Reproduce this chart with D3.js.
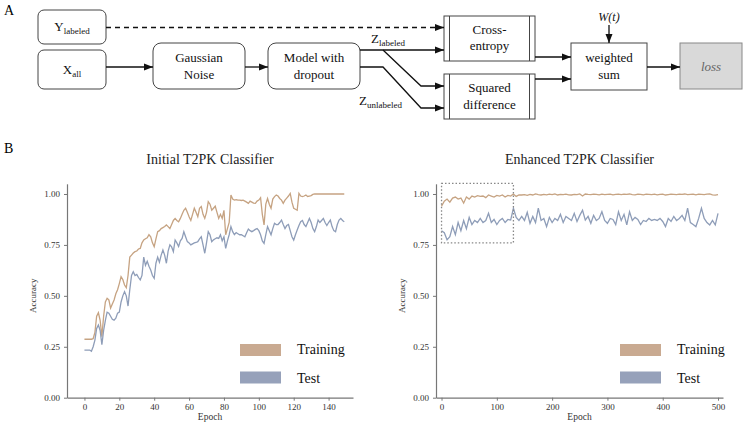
<!DOCTYPE html>
<html><head><meta charset="utf-8">
<script src="https://cdn.jsdelivr.net/npm/d3@7"></script>
<style>body{margin:0;background:#fff}svg{display:block}text{font-family:"Liberation Serif","Times New Roman",serif}</style>
</head><body><svg id="c" width="744" height="426"></svg>
<script>
// ---------- DATA ----------
const initialTraining = [0.287,0.287,0.287,0.287,0.287,0.29,0.32,0.40,0.417,0.38,
0.30,0.40,0.47,0.488,0.48,0.44,0.46,0.48,0.51,0.53,
0.56,0.594,0.58,0.553,0.54,0.60,0.69,0.70,0.71,0.717,
0.72,0.73,0.733,0.76,0.774,0.78,0.785,0.80,0.79,0.76,
0.741,0.78,0.815,0.82,0.83,0.835,0.84,0.848,0.84,0.83,
0.85,0.87,0.88,0.87,0.864,0.88,0.90,0.92,0.93,0.91,
0.888,0.87,0.90,0.93,0.91,0.888,0.93,0.938,0.90,0.88,
0.91,0.962,0.95,0.92,0.93,0.94,0.91,0.88,0.90,0.88,
0.92,0.80,0.83,0.86,0.995,0.975,0.97,0.972,0.97,0.97,
0.968,0.97,0.965,0.96,0.954,0.965,0.96,0.955,0.954,0.965,
0.97,0.982,0.90,0.848,0.95,0.978,0.95,0.93,0.975,0.987,
0.995,0.99,0.978,0.97,0.954,0.97,0.98,0.99,1.003,0.96,
0.93,0.925,0.92,1.003,0.99,0.987,0.99,0.995,0.988,0.99,
0.992,0.998,1,1,1,1,1,1,1,1,
1,1,1,1,1,1,1,1,1,1];
const initialTest = [0.234,0.234,0.234,0.234,0.228,0.25,0.283,0.34,0.357,0.33,
0.26,0.33,0.38,0.42,0.415,0.40,0.385,0.38,0.39,0.415,
0.42,0.47,0.50,0.52,0.50,0.45,0.53,0.60,0.618,0.60,
0.605,0.59,0.578,0.60,0.69,0.65,0.67,0.645,0.627,0.60,
0.586,0.66,0.69,0.665,0.70,0.725,0.70,0.66,0.72,0.75,
0.74,0.717,0.774,0.76,0.742,0.77,0.782,0.815,0.79,0.766,
0.76,0.75,0.755,0.76,0.762,0.766,0.78,0.79,0.75,0.709,
0.76,0.815,0.80,0.766,0.775,0.78,0.785,0.782,0.80,0.77,
0.79,0.733,0.77,0.80,0.84,0.815,0.80,0.81,0.805,0.80,
0.80,0.795,0.79,0.81,0.828,0.82,0.815,0.82,0.826,0.83,
0.82,0.80,0.77,0.758,0.80,0.84,0.82,0.80,0.83,0.856,
0.85,0.85,0.86,0.872,0.85,0.83,0.845,0.85,0.82,0.79,
0.774,0.80,0.823,0.845,0.864,0.87,0.85,0.84,0.86,0.88,
0.86,0.83,0.815,0.84,0.872,0.86,0.87,0.88,0.86,0.845,
0.86,0.872,0.84,0.82,0.815,0.85,0.872,0.88,0.87,0.864];
const enhancedEpochStep = 5;
const enhancedTraining = [0.94,0.965,0.975,0.96,0.98,0.985,0.975,0.98,0.955,0.985,
0.975,0.99,0.985,0.992,0.988,0.99,0.982,0.995,0.99,0.985,
0.993,0.99,0.995,0.985,0.993,0.99,1.0,0.988,0.995,0.995,
0.997,0.993,0.998,0.995,1.0,0.997,0.995,0.998,0.996,0.999,
0.997,1.0,0.995,0.998,0.997,0.999,0.996,0.995,0.998,0.997,
1.0,0.99,1.0,0.998,0.997,0.999,0.998,0.996,0.999,0.997,
0.998,0.999,0.996,0.998,0.999,0.997,0.999,0.998,1.0,0.997,
0.996,0.999,0.998,0.996,0.999,0.998,0.997,0.999,0.996,0.998,
0.999,0.995,0.997,0.999,0.998,0.997,0.999,0.998,1.0,0.997,
0.998,0.999,0.996,0.999,0.998,0.997,0.999,1.0,0.996,0.994,0.997];
const enhancedTest = [0.82,0.81,0.775,0.79,0.84,0.80,0.86,0.82,0.87,0.83,
0.885,0.85,0.87,0.86,0.88,0.86,0.87,0.905,0.86,0.875,
0.85,0.87,0.88,0.86,0.875,0.872,0.93,0.885,0.87,0.89,
0.87,0.91,0.856,0.89,0.86,0.93,0.87,0.88,0.84,0.885,
0.86,0.88,0.87,0.90,0.86,0.89,0.88,0.87,0.905,0.865,
0.895,0.92,0.872,0.89,0.856,0.895,0.87,0.88,0.913,0.87,
0.856,0.88,0.875,0.85,0.913,0.87,0.90,0.848,0.913,0.87,
0.885,0.875,0.85,0.87,0.865,0.88,0.87,0.875,0.87,0.88,
0.865,0.84,0.88,0.865,0.89,0.87,0.88,0.895,0.87,0.93,
0.86,0.85,0.84,0.88,0.93,0.88,0.86,0.848,0.87,0.848,0.905];
const yTicks = [0,0.25,0.5,0.75,1.0];
const initialXTicks = [0,20,40,60,80,100,120,140];
const enhancedXTicks = [0,100,200,300,400,500];
const seriesNames = ["Training","Test"];
const zoomBox = {x0:0, x1:130, y0:0.76, y1:1.052};

// ---------- STYLE ----------
const colTrain = "#c6a382", colTest = "#8e9db8";
const swTrain = "#c9aa91", swTest = "#96a1ba";
const svg = d3.select("#c");
const defs = svg.append("defs");
defs.append("marker").attr("id","ah").attr("markerUnits","userSpaceOnUse")
  .attr("markerWidth",10).attr("markerHeight",8).attr("refX",9).attr("refY",4)
  .attr("orient","auto").append("path").attr("d","M0,0.5 L9,4 L0,7.5 Z").attr("fill","#111");

// ---------- PANEL A: diagram ----------
svg.append("text").attr("x",4).attr("y",15).attr("font-size",14).text("A");
const g = svg.append("g");
const stroke = "#444";
function rbox(x,y,w,h,r){ g.append("rect").attr("x",x).attr("y",y).attr("width",w).attr("height",h).attr("rx",r).attr("ry",r).attr("fill","#fff").attr("stroke",stroke).attr("stroke-width",1); }
function txt(x,y,s,size,opts={}){ const t=g.append("text").attr("x",x).attr("y",y).attr("font-size",size).attr("text-anchor",opts.anchor||"middle").attr("fill",opts.fill||"#111").text(s); if(opts.italic) t.attr("font-style","italic"); return t;}
function subtxt(x,y,main,sub,anchor){ const t=g.append("text").attr("x",x).attr("y",y).attr("text-anchor",anchor||"middle").attr("fill","#111");
  t.append("tspan").attr("font-size",13).text(main); t.append("tspan").attr("font-size",9).attr("dy",3).text(sub); }
function arrow(pts,dashed){ const p=g.append("path").attr("d",d3.line()(pts)).attr("fill","none").attr("stroke","#111").attr("stroke-width",1.3).attr("marker-end","url(#ah)"); if(dashed) p.attr("stroke-dasharray","5,4"); }

rbox(38,10,68,34,6); subtxt(72,31,"Y","labeled");
rbox(38,50,68,39,6); subtxt(72,74,"X","all");
rbox(153,43,92,46,8); txt(199,62,"Gaussian",13); txt(199,79,"Noise",13);
rbox(268,43,92,46,8); txt(314,62,"Model with",13); txt(314,79,"dropout",13);
function dbox(x,y,w,h){ g.append("rect").attr("x",x).attr("y",y).attr("width",w).attr("height",h).attr("fill","#fff").attr("stroke",stroke);
  g.append("line").attr("x1",x+5.5).attr("x2",x+5.5).attr("y1",y).attr("y2",y+h).attr("stroke",stroke);
  g.append("line").attr("x1",x+w-5.5).attr("x2",x+w-5.5).attr("y1",y).attr("y2",y+h).attr("stroke",stroke); }
dbox(444,16,91,45); txt(489.5,34,"Cross-",13); txt(489.5,50,"entropy",13);
dbox(444,74,91,45); txt(489.5,92,"Squared",13); txt(489.5,109,"difference",13);
g.append("rect").attr("x",571).attr("y",43).attr("width",76).attr("height",47).attr("fill","#fff").attr("stroke",stroke);
txt(609,62,"weighted",13); txt(609,79,"sum",13);
g.append("rect").attr("x",680).attr("y",43).attr("width",62).attr("height",46).attr("fill","#d9d9d9").attr("stroke","#888");
txt(711,71,"loss",13,{italic:true,fill:"#666"});
txt(609,21,"W(t)",12,{italic:true});

arrow([[106,27.5],[444,27.5]],true);
arrow([[106,67],[153,67]]);
arrow([[245,67],[268,67]]);
arrow([[360,50],[444,50]]);
arrow([[383,50],[421,86],[444,86]]);
arrow([[360,67],[383,67],[421,108],[444,108]]);
arrow([[535,57],[571,57]]);
arrow([[535,79],[571,79]]);
arrow([[647,67],[680,67]]);
arrow([[609,25],[609,43]]);
subtxt(371,43,"Z","labeled","start");
subtxt(359,105,"Z","unlabeled","start");

// ---------- PANEL B: charts ----------
svg.append("text").attr("x",4).attr("y",153).attr("font-size",14).text("B");

function panel(cfg){
  const x = d3.scaleLinear().domain(cfg.xDomain).range(cfg.xRange);
  const y = d3.scaleLinear().domain([0,1.05]).range([397.7,183.8]);
  const pg = svg.append("g");
  const fmt = d3.format(".2f");
  const ya = pg.append("g").attr("transform",`translate(${cfg.xRange[0]},0)`)
    .call(d3.axisLeft(y).tickValues(yTicks).tickFormat(fmt).tickSize(3).tickSizeOuter(0).tickPadding(4));
  const xa = pg.append("g").attr("transform",`translate(0,${y(0)})`)
    .call(d3.axisBottom(x).tickValues(cfg.xTicks).tickSize(3).tickSizeOuter(0).tickPadding(3));
  [ya,xa].forEach(a=>{ a.select(".domain").attr("stroke","#777").attr("stroke-width",1.2);
    a.selectAll(".tick line").attr("stroke","#777");
    a.selectAll("text").attr("font-family","Liberation Serif, serif").attr("font-size",9).attr("fill","#333"); });
  pg.append("text").attr("x",(cfg.xRange[0]+cfg.xRange[1])/2).attr("y",164).attr("text-anchor","middle").attr("font-size",14).attr("fill","#222").text(cfg.title);
  pg.append("text").attr("transform",`translate(${cfg.xRange[0]-31},${y(0.5)}) rotate(-90)`).attr("text-anchor","middle").attr("font-size",9).attr("fill","#333").text("Accuracy");
  pg.append("text").attr("x",(cfg.xRange[0]+cfg.xRange[1])/2).attr("y",420).attr("text-anchor","middle").attr("font-size",9.5).attr("fill","#333").text("Epoch");
  const line = d3.line().x((d,i)=>x(i*cfg.step)).y(d=>y(d));
  pg.append("path").datum(cfg.train).attr("d",line).attr("fill","none").attr("stroke",colTrain).attr("stroke-width",1.3);
  pg.append("path").datum(cfg.test).attr("d",line).attr("fill","none").attr("stroke",colTest).attr("stroke-width",1.3);
  if(cfg.box){
    pg.append("rect").attr("x",x(cfg.box.x0)).attr("y",y(cfg.box.y1)).attr("width",x(cfg.box.x1)-x(cfg.box.x0)).attr("height",y(cfg.box.y0)-y(cfg.box.y1))
      .attr("fill","none").attr("stroke","#888").attr("stroke-width",1.3).attr("stroke-dasharray","1.5,2");
  }
  const lg = pg.append("g");
  [swTrain,swTest].forEach((c,i)=>{
    lg.append("rect").attr("x",cfg.legX).attr("y",344+i*27.5).attr("width",41).attr("height",12).attr("fill",c);
    lg.append("text").attr("x",cfg.legX+57).attr("y",354+i*29).attr("font-size",14).attr("fill","#111").text(seriesNames[i]);
  });
}
panel({xDomain:[-10,154],xRange:[67,353],xTicks:initialXTicks,title:"Initial T2PK Classifier",train:initialTraining,test:initialTest,step:1,legX:240});
panel({xDomain:[-10,509],xRange:[436,723],xTicks:enhancedXTicks,title:"Enhanced T2PK Classifier",train:enhancedTraining,test:enhancedTest,step:enhancedEpochStep,legX:620,box:zoomBox});
</script></body></html>
